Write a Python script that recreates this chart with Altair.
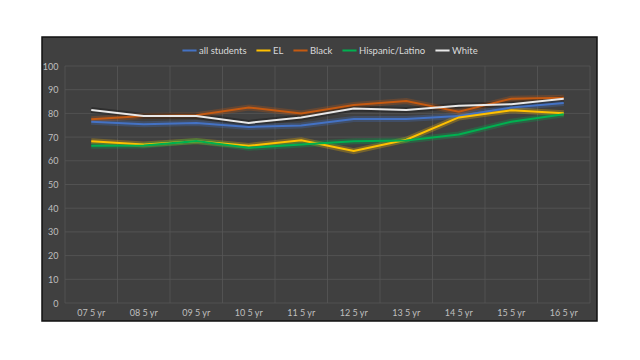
import altair as alt
import pandas as pd

years = ["07 5 yr", "08 5 yr", "09 5 yr", "10 5 yr", "11 5 yr",
         "12 5 yr", "13 5 yr", "14 5 yr", "15 5 yr", "16 5 yr"]
series_names = ["all students", "EL", "Black", "Hispanic/Latino", "White"]
all_students = [76.5, 75.4, 75.9, 74.3, 74.9, 77.6, 77.6, 78.9, 82.5, 84.4]
el = [68.3, 66.9, 68.3, 66.3, 68.7, 64.1, 68.9, 78.3, 81.3, 80.1]
black = [77.5, 78.9, 79.2, 82.5, 80.0, 83.5, 85.2, 80.7, 86.2, 86.6]
hispanic = [66.3, 66.5, 68.3, 65.5, 66.9, 68.2, 68.6, 71.1, 76.5, 79.6]
white = [81.4, 78.9, 78.9, 76.0, 78.3, 82.1, 81.4, 83.2, 83.9, 86.2]
y_ticks = list(range(0, 101, 10))
colors = ["#4472C4", "#FFC000", "#C55A11", "#00B050", "#E8E8E8"]
glow_colors = ["#4472C4", "#FFC000", "#C55A11", "#00B050", "#000000"]

rows = []
for name, vals in zip(series_names, [all_students, el, black, hispanic, white]):
    for yr, v in zip(years, vals):
        rows.append({"year": yr, "value": v, "series": name, "glow": name + " glow"})
df = pd.DataFrame(rows)

W, H = 525, 237
GRID = "#575757"

xscale = alt.Scale(type="band", domain=years, paddingInner=0, paddingOuter=0)
yscale = alt.Scale(domain=[0, 100], nice=False)

xaxis = alt.Axis(labelAngle=0, labelColor="#BFBFBF", labelFontSize=9,
                 labelPadding=9, labelBaseline="middle", ticks=False,
                 domain=False, grid=False, zindex=1)
yaxis = alt.Axis(values=y_ticks, labelColor="#BFBFBF",
                 labelFontSize=9, labelPadding=7, ticks=False,
                 domain=False, grid=False, zindex=1)

xenc = alt.X("year:N", sort=years, title=None, scale=xscale, axis=xaxis)
yenc = alt.Y("value:Q", title=None, scale=yscale, axis=yaxis)

bg = alt.Chart(pd.DataFrame({"a": [0]})).mark_rect(
    fill="#404040", stroke="#111111", strokeWidth=1.5, clip=False
).encode(
    x=alt.value(-23), x2=alt.value(532),
    y=alt.value(-29), y2=alt.value(255)
)

hgrid = alt.Chart(pd.DataFrame({"value": y_ticks})).mark_rule(
    color=GRID, strokeWidth=0.8
).encode(
    y=yenc,
    x=alt.value(0), x2=alt.value(W)
)

vgrid = alt.Chart(pd.DataFrame({"year": years})).mark_rule(
    color=GRID, strokeWidth=0.8
).encode(
    x=alt.X("year:N", sort=years, title=None, scale=xscale, axis=xaxis, bandPosition=0),
    y=alt.value(0), y2=alt.value(H)
)

vgrid_end = alt.Chart(pd.DataFrame({"a": [0]})).mark_rule(
    color=GRID, strokeWidth=0.8
).encode(x=alt.value(W), y=alt.value(0), y2=alt.value(H))

base = alt.Chart(df)

glow = base.mark_line(strokeWidth=6, opacity=0.28).encode(
    x=xenc, y=yenc,
    color=alt.Color("glow:N", scale=alt.Scale(
        domain=[n + " glow" for n in series_names], range=glow_colors), legend=None),
    detail="series:N"
)

lines = base.mark_line(strokeWidth=2).encode(
    x=xenc, y=yenc,
    color=alt.Color("series:N", sort=series_names,
                    scale=alt.Scale(domain=series_names, range=colors),
                    legend=alt.Legend(title=None, orient="none", direction="horizontal",
                                      legendX=116, legendY=-24,
                                      symbolType="stroke", symbolSize=200,
                                      symbolStrokeWidth=2, labelColor="#D9D9D9",
                                      labelFontSize=9.5, columnPadding=5,
                                      labelOffset=1))
)

chart = alt.layer(bg, hgrid, vgrid, vgrid_end, glow, lines).resolve_scale(
    color="independent"
).properties(
    width=W, height=H,
    autosize=alt.AutoSizeParams(type="none"),
    padding={"left": 57, "top": 58, "right": 42, "bottom": 49},
    background="white"
).configure_view(stroke=None).configure(font="Lato")

chart.save("out.html", embed_options={"renderer": "svg", "actions": False})
